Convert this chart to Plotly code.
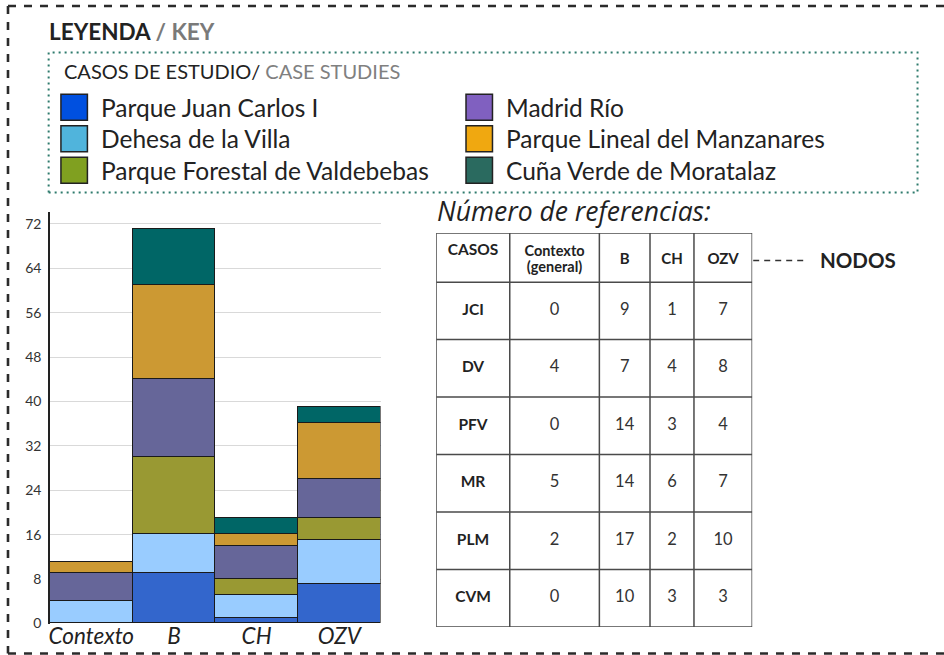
import plotly.graph_objects as go

# ---------------------------------------------------------------------------
# Data: number of references per case study and node
# ---------------------------------------------------------------------------
nodes = ["Contexto", "B", "CH", "OZV"]
node_headers = ["Contexto<br>(general)", "B", "CH", "OZV"]
case_codes = ["JCI", "DV", "PFV", "MR", "PLM", "CVM"]
case_names = [
    "Parque Juan Carlos I",
    "Dehesa de la Villa",
    "Parque Forestal de Valdebebas",
    "Madrid Río",
    "Parque Lineal del Manzanares",
    "Cuña Verde de Moratalaz",
]
refs_jci = [0, 9, 1, 7]
refs_dv = [4, 7, 4, 8]
refs_pfv = [0, 14, 3, 4]
refs_mr = [5, 14, 6, 7]
refs_plm = [2, 17, 2, 10]
refs_cvm = [0, 10, 3, 3]
y_ticks = [0, 8, 16, 24, 32, 40, 48, 56, 64, 72]

series = [refs_jci, refs_dv, refs_pfv, refs_mr, refs_plm, refs_cvm]

# ---------------------------------------------------------------------------
# Styling
# ---------------------------------------------------------------------------
bar_colors = ["#3366cc", "#99ccff", "#999933", "#666699", "#cc9933", "#006666"]
key_colors = ["#0050e0", "#50b4dc", "#80a020", "#8060c0", "#f0a810", "#2a6a5f"]
FONT = "Lato"
INK = "#222222"

# layout grid used for positioning (in design pixels) and the canvas size
W, H = 944, 655
CANVAS_H = 664


def px(x):
    return x / W


def py(y):
    return 1 - y / H


fig = go.Figure()

# ---------------------------------------------------------------------------
# Stacked bar chart
# ---------------------------------------------------------------------------
for code, vals, col in zip(case_codes, series, bar_colors):
    fig.add_trace(go.Bar(
        x=nodes, y=vals, name=code,
        marker=dict(color=col, line=dict(color="#1a1a1a", width=1)),
        showlegend=False, xaxis="x", yaxis="y",
        hovertemplate=code + " · %{x}: %{y}<extra></extra>",
    ))

# ---------------------------------------------------------------------------
# Reference table, drawn on its own pair of hidden axes
# ---------------------------------------------------------------------------
col_widths = [73.6, 89.7, 50.7, 44.0, 58.3]
header_h = 49.0
row_h = 57.4
col_edges = [0.0]
for w in col_widths:
    col_edges.append(col_edges[-1] + w)
row_edges = [0.0, header_h] + [header_h + row_h * (i + 1) for i in range(len(case_codes))]
tab_w, tab_h = col_edges[-1], row_edges[-1]
col_mid = [(col_edges[i] + col_edges[i + 1]) / 2 for i in range(len(col_widths))]
row_mid = [(row_edges[i + 1] + row_edges[i + 2]) / 2 for i in range(len(case_codes))]

tab_left, tab_top = 435.7, 232.7


def table_text(xs, ys, texts, size, **font_extra):
    fig.add_trace(go.Scatter(
        x=xs, y=ys, text=texts, mode="text",
        textfont=dict(family=FONT, size=size, color=INK, **font_extra),
        xaxis="x2", yaxis="y2", showlegend=False, hoverinfo="skip",
    ))


# header labels
table_text([col_mid[0]], [18.0], ["CASOS"], 15.5, weight="bold")
ctx_lines = node_headers[0].split("<br>")
table_text([col_mid[1]] * len(ctx_lines), [19.5, 35.5], ctx_lines, 14.5, weight="bold")
table_text(col_mid[2:], [27.5] * 3, node_headers[1:], 15, weight="bold")
# row labels
table_text([col_mid[0]] * len(case_codes), row_mid, case_codes, 15.5, weight="bold")
# values
vx, vy, vt = [], [], []
for i, vals in enumerate(series):
    for j, v in enumerate(vals):
        vx.append(col_mid[j + 1])
        vy.append(row_mid[i])
        vt.append(str(v))
fig.add_trace(go.Scatter(
    x=vx, y=vy, text=vt, mode="text",
    textfont=dict(family=FONT, size=16.5, color="#333333"),
    xaxis="x2", yaxis="y2", showlegend=False, hoverinfo="skip",
))

shapes = []
grid_line = dict(color="#4a4a4a", width=1.5)
for xe in col_edges:
    shapes.append(dict(type="line", xref="x2", yref="y2", x0=xe, x1=xe,
                       y0=0, y1=tab_h, line=grid_line))
for ye in row_edges:
    shapes.append(dict(type="line", xref="x2", yref="y2", x0=0, x1=tab_w,
                       y0=ye, y1=ye, line=grid_line))

# ---------------------------------------------------------------------------
# Frames and key
# ---------------------------------------------------------------------------
frame = dict(color="#2b2b2b", width=2.6, dash="8px,8px")
bottom_y = 652.5
shapes += [
    dict(type="line", xref="paper", yref="paper", x0=px(7), x1=px(W + 5),
         y0=py(6), y1=py(6), line=frame),
    dict(type="line", xref="paper", yref="paper", x0=px(7), x1=px(7),
         y0=py(6), y1=py(bottom_y), line=frame),
    dict(type="line", xref="paper", yref="paper", x0=px(7), x1=px(W + 5),
         y0=py(bottom_y), y1=py(bottom_y), line=frame),
]
shapes.append(dict(type="rect", xref="paper", yref="paper",
                   x0=px(47.7), x1=px(917.5), y0=py(192.3), y1=py(52.3),
                   line=dict(color="#2e7b6d", width=2, dash="2px,4px")))


def note(text, x, y, size, family=FONT, **font_extra):
    return dict(text=text, xref="paper", yref="paper", x=px(x), y=py(y),
                xanchor="left", yanchor="middle", showarrow=False,
                font=dict(family=family, size=size, color=INK, **font_extra))


annotations = [
    note("<b>LEYENDA</b><b><span style='color:#7a7a7a'> / KEY</span></b>", 46, 31, 22.5),
    note("CASOS DE ESTUDIO/ <span style='color:#808080'>CASE STUDIES</span>", 61, 71, 20),
    note("Número de referencias:", 434, 211, 26.5, family="Open Sans", style="italic"),
    note("<b>NODOS</b>", 818, 260, 20.5),
]

shapes.append(dict(type="line", xref="paper", yref="paper", x0=px(753), x1=px(806),
                   y0=py(260), y1=py(260),
                   line=dict(color="#333333", width=1.5, dash="6px,5px")))

key_rows_y = [107, 138.5, 170]
for k, (name, col) in enumerate(zip(case_names, key_colors)):
    colx = 60 if k < 3 else 465.5
    cy = key_rows_y[k % 3]
    shapes.append(dict(type="rect", xref="paper", yref="paper",
                       x0=px(colx), x1=px(colx + 26.5),
                       y0=py(cy + 13), y1=py(cy - 13),
                       fillcolor=col, line=dict(color=INK, width=1.5)))
    annotations.append(note(name, colx + 38.5, cy, 24.5))

fig.update_layout(
    width=W, height=CANVAS_H, autosize=False,
    margin=dict(l=0, r=0, t=0, b=0),
    paper_bgcolor="white", plot_bgcolor="white",
    barmode="stack", bargap=0,
    showlegend=False,
    xaxis=dict(
        domain=[px(49), px(380)], range=[-0.5, 3.5],
        showgrid=False, zeroline=False, showline=False, ticks="",
        ticklabelstandoff=-3,
        tickfont=dict(family=FONT, size=22.5, color=INK, style="italic"),
        anchor="y",
    ),
    yaxis=dict(
        domain=[py(622.6), py(212)], range=[0, 74.1],
        tickvals=y_ticks, ticktext=[str(t) for t in y_ticks],
        showgrid=True, gridcolor="#d9d9d9", gridwidth=1,
        zeroline=False, showline=True, linecolor=INK, linewidth=1.5,
        ticks="", ticklabelstandoff=4,
        tickfont=dict(family=FONT, size=14, color="#333333"),
        anchor="x",
    ),
    xaxis2=dict(domain=[px(tab_left), px(tab_left + tab_w)], range=[0, tab_w],
                visible=False, anchor="y2", fixedrange=True),
    yaxis2=dict(domain=[py(tab_top + tab_h), py(tab_top)], range=[tab_h, 0],
                visible=False, anchor="x2", fixedrange=True),
    shapes=shapes,
    annotations=annotations,
)

fig.write_html("out.html", config={"responsive": False})
